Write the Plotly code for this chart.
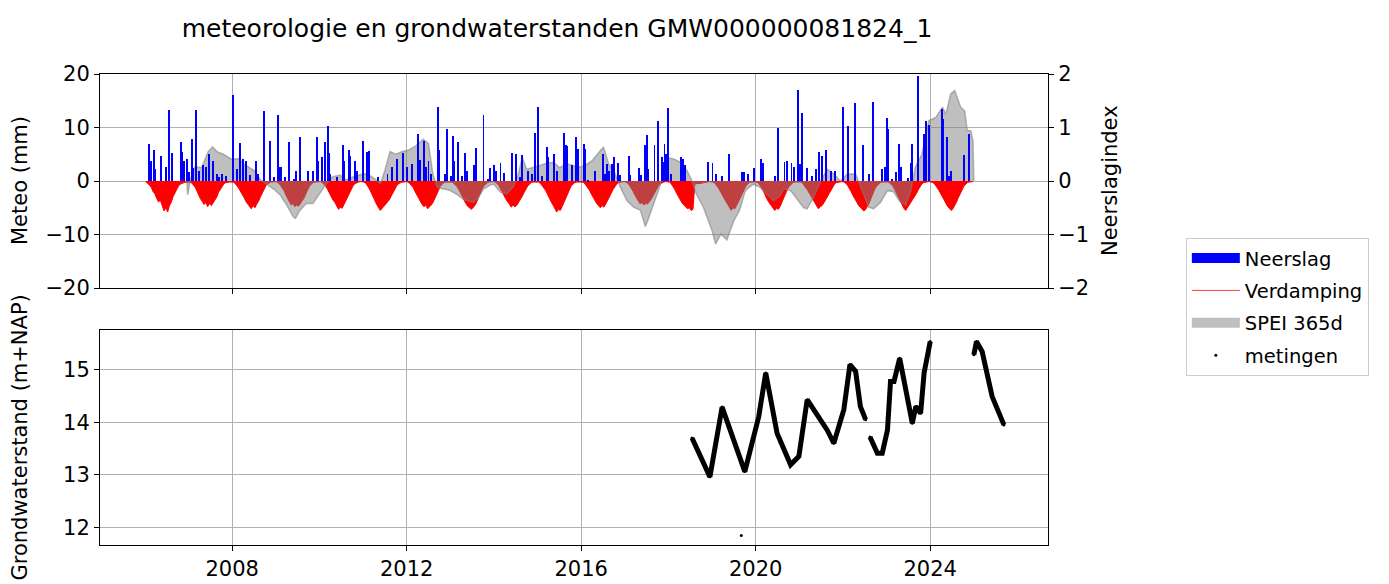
import plotly.graph_objects as go

# ---------------- data ----------------
# Neerslag (mm/d): notable daily values, time in decimal years
neerslag_jaar = [2006.10, 2006.13, 2006.20, 2006.22, 2006.37, 2006.48, 2006.56, 2006.62, 2006.83, 2006.86,
                 2006.90, 2006.97, 2007.00, 2007.08, 2007.11, 2007.16, 2007.24, 2007.33, 2007.40, 2007.47,
                 2007.57, 2007.65, 2007.70, 2007.77, 2007.85, 2008.02, 2008.10, 2008.17, 2008.24, 2008.31,
                 2008.40, 2008.54, 2008.60, 2008.72, 2008.86, 2008.95, 2009.04, 2009.07, 2009.12, 2009.22,
                 2009.31, 2009.41, 2009.47, 2009.56, 2009.74, 2009.86, 2009.94, 2009.97, 2010.06, 2010.12,
                 2010.19, 2010.22, 2010.25, 2010.40, 2010.54, 2010.57, 2010.68, 2010.71, 2010.82, 2010.86,
                 2010.99, 2011.09, 2011.14, 2011.34, 2011.56, 2011.66, 2011.78, 2011.91, 2012.01, 2012.12,
                 2012.26, 2012.30, 2012.39, 2012.44, 2012.50, 2012.56, 2012.71, 2012.74, 2012.88, 2012.92,
                 2013.01, 2013.06, 2013.09, 2013.17, 2013.27, 2013.34, 2013.38, 2013.54, 2013.59, 2013.76,
                 2013.87, 2013.92, 2014.00, 2014.04, 2014.15, 2014.22, 2014.41, 2014.50, 2014.60, 2014.64,
                 2014.77, 2014.87, 2014.95, 2015.01, 2015.10, 2015.22, 2015.25, 2015.37, 2015.45, 2015.61,
                 2015.65, 2015.68, 2015.78, 2015.89, 2015.93, 2016.06, 2016.09, 2016.16, 2016.32, 2016.49,
                 2016.54, 2016.59, 2016.64, 2016.71, 2016.76, 2016.84, 2016.88, 2017.10, 2017.13, 2017.33,
                 2017.38, 2017.47, 2017.50, 2017.54, 2017.68, 2017.75, 2017.85, 2017.87, 2017.91, 2017.94,
                 2018.00, 2018.06, 2018.28, 2018.33, 2018.37, 2018.91, 2019.01, 2019.10, 2019.22, 2019.39,
                 2019.68, 2019.74, 2019.83, 2019.96, 2020.13, 2020.17, 2020.45, 2020.51, 2020.66, 2020.72,
                 2020.82, 2020.87, 2020.97, 2021.01, 2021.07, 2021.18, 2021.28, 2021.39, 2021.46, 2021.52,
                 2021.61, 2021.72, 2021.82, 2022.01, 2022.12, 2022.27, 2022.47, 2022.59, 2022.69, 2022.89,
                 2022.96, 2023.00, 2023.03, 2023.13, 2023.22, 2023.28, 2023.32, 2023.50, 2023.57, 2023.59,
                 2023.71, 2023.86, 2023.91, 2023.97, 2024.26, 2024.29, 2024.39, 2024.43, 2024.48, 2024.78,
                 2024.90]
neerslag_mm = [6.9, 3.8, 5.8, 2.2, 4.7, 2.7, 13.3, 5.2, 7.2, 5.5,
               3.8, 4.1, 1.6, 7.9, 2.4, 13.3, 1.9, 2.9, 2.6, 5.0,
               3.8, 1.3, 0.7, 1.3, 1.0, 16.1, 2.2, 7.1, 4.1, 3.8,
               1.2, 3.7, 1.4, 13.0, 7.5, 0.7, 12.4, 2.6, 2.7, 0.7,
               7.2, 0.4, 1.9, 8.2, 1.8, 1.8, 8.2, 3.8, 4.4, 7.2,
               10.3, 5.2, 1.3, 0.7, 6.8, 3.8, 5.8, 4.7, 3.8, 1.9,
               7.5, 5.4, 5.7, 0.8, 1.3, 2.6, 4.1, 5.2, 2.7, 3.1,
               8.7, 3.9, 7.5, 2.7, 3.8, 1.3, 13.8, 5.8, 1.3, 9.8,
               1.0, 8.4, 3.8, 7.2, 1.0, 5.2, 1.9, 3.0, 6.2, 12.3,
               0.4, 2.4, 3.0, 1.9, 3.3, 1.5, 5.2, 5.0, 0.7, 4.9,
               1.9, 1.3, 8.9, 13.8, 1.0, 6.4, 4.4, 5.0, 1.9, 8.9,
               6.8, 6.6, 2.9, 8.2, 6.0, 6.9, 6.0, 0.2, 1.8, 5.0,
               1.3, 3.1, 1.9, 3.2, 4.5, 3.3, 1.2, 4.7, 1.2, 2.4,
               1.1, 6.7, 8.6, 2.2, 6.7, 11.3, 4.4, 3.6, 6.9, 5.0,
               13.6, 1.3, 4.5, 4.1, 2.9, 3.5, 3.3, 1.3, 1.0, 5.0,
               1.7, 1.6, 1.4, 2.4, 4.1, 3.3, 1.0, 9.9, 3.5, 3.8,
               3.3, 2.6, 17.0, 3.1, 12.8, 2.4, 1.0, 2.2, 5.5, 4.6,
               5.8, 1.9, 1.8, 13.8, 10.3, 14.6, 6.7, 1.4, 14.7, 2.2,
               2.7, 11.8, 9.7, 0.4, 1.6, 6.9, 2.7, 0.6, 3.3, 6.9,
               19.7, 8.8, 11.2, 10.5, 13.5, 11.6, 8.2, 1.0, 1.9, 4.9,
               8.8]

# Verdamping (mm/d, negative): lower envelope per half month, one row per year
verdamping_jaren = list(range(2006, 2025))
verdamping_halfmaand = [
    [-0.2, -0.4, -0.8, -1.2, -2.0, -2.4, -3.3, -3.9, -3.6, -4.5, -5.6, -5.0, -5.8, -4.6, -4.0, -2.9, -2.2, -1.5, -0.9, -0.6, -0.4, -0.3, -0.2, -0.2],
    [-0.2, -0.3, -0.7, -1.1, -1.8, -2.6, -3.3, -3.8, -4.4, -4.0, -4.8, -4.2, -4.6, -4.1, -3.5, -3.0, -2.1, -1.5, -0.9, -0.5, -0.3, -0.2, -0.2, -0.2],
    [-0.2, -0.4, -0.8, -1.3, -1.9, -2.4, -3.1, -3.8, -4.3, -4.8, -5.2, -4.6, -5.0, -4.3, -3.8, -3.0, -2.3, -1.5, -0.9, -0.5, -0.3, -0.2, -0.2, -0.1],
    [-0.2, -0.4, -0.8, -1.2, -1.8, -2.6, -3.4, -3.9, -4.5, -4.2, -4.8, -4.5, -4.7, -4.2, -3.7, -3.2, -2.4, -1.6, -1.0, -0.6, -0.3, -0.2, -0.2, -0.1],
    [-0.1, -0.3, -0.6, -1.0, -1.6, -2.3, -3.0, -3.6, -4.0, -4.6, -5.3, -4.9, -5.1, -4.4, -3.7, -2.9, -2.1, -1.4, -0.9, -0.5, -0.3, -0.2, -0.1, -0.1],
    [-0.2, -0.4, -0.9, -1.5, -2.2, -3.0, -3.8, -4.4, -5.0, -5.5, -5.1, -4.7, -4.4, -4.0, -3.5, -2.8, -2.1, -1.5, -0.9, -0.5, -0.3, -0.2, -0.2, -0.1],
    [-0.2, -0.4, -0.8, -1.2, -1.9, -2.6, -3.2, -3.8, -4.4, -4.8, -4.5, -5.2, -4.9, -4.5, -4.0, -3.2, -2.4, -1.6, -1.0, -0.6, -0.3, -0.2, -0.2, -0.1],
    [-0.2, -0.3, -0.6, -1.0, -1.5, -2.2, -3.0, -3.6, -4.2, -4.7, -5.0, -5.3, -5.0, -4.6, -3.9, -3.0, -2.2, -1.5, -0.9, -0.5, -0.3, -0.2, -0.1, -0.1],
    [-0.2, -0.4, -0.8, -1.3, -2.0, -2.7, -3.4, -3.9, -4.3, -4.9, -4.5, -4.8, -4.6, -4.1, -3.6, -2.9, -2.2, -1.5, -1.0, -0.6, -0.3, -0.2, -0.2, -0.1],
    [-0.2, -0.4, -0.8, -1.2, -1.8, -2.5, -3.3, -3.9, -4.5, -5.1, -5.8, -5.3, -5.5, -4.8, -4.0, -3.1, -2.2, -1.5, -0.9, -0.6, -0.3, -0.2, -0.2, -0.1],
    [-0.2, -0.3, -0.7, -1.1, -1.7, -2.4, -3.1, -3.7, -4.2, -4.6, -5.0, -4.6, -4.9, -4.3, -3.7, -3.0, -2.3, -1.6, -1.0, -0.6, -0.3, -0.2, -0.2, -0.1],
    [-0.2, -0.4, -0.8, -1.3, -1.9, -2.6, -3.3, -3.8, -4.3, -4.0, -4.5, -4.2, -4.3, -3.9, -3.4, -2.8, -2.1, -1.4, -0.9, -0.5, -0.3, -0.2, -0.1, -0.1],
    [-0.2, -0.5, -1.0, -1.6, -2.3, -3.0, -3.6, -4.1, -4.5, -4.9, -5.2, -5.0, -5.5, -5.3, -0.6, -0.5, -0.5, -0.4, -0.4, -0.3, -0.3, -0.2, -0.1, -0.1],
    [-0.2, -0.4, -0.8, -1.3, -1.9, -2.6, -3.3, -3.8, -4.3, -4.8, -5.5, -5.0, -5.2, -4.6, -3.9, -3.1, -2.3, -1.6, -1.0, -0.6, -0.3, -0.2, -0.2, -0.1],
    [-0.2, -0.4, -0.8, -1.4, -2.1, -2.9, -3.6, -4.1, -4.6, -5.0, -5.5, -5.1, -5.3, -4.7, -3.9, -3.0, -2.2, -1.5, -1.0, -0.6, -0.3, -0.2, -0.2, -0.1],
    [-0.2, -0.3, -0.7, -1.1, -1.7, -2.3, -2.9, -3.5, -4.1, -4.7, -5.2, -4.8, -4.6, -4.1, -3.5, -2.8, -2.1, -1.5, -0.9, -0.5, -0.3, -0.2, -0.2, -0.1],
    [-0.2, -0.4, -0.8, -1.3, -2.0, -2.7, -3.4, -3.9, -4.5, -4.9, -5.2, -5.6, -5.3, -4.8, -4.1, -3.2, -2.3, -1.5, -1.0, -0.6, -0.3, -0.2, -0.2, -0.1],
    [-0.2, -0.3, -0.6, -1.0, -1.6, -2.3, -3.1, -3.8, -4.5, -5.1, -5.5, -5.0, -4.5, -4.0, -3.5, -3.0, -2.3, -1.6, -0.9, -0.5, -0.3, -0.2, -0.2, -0.1],
    [-0.2, -0.3, -0.6, -1.0, -1.6, -2.2, -2.9, -3.5, -4.1, -4.7, -5.1, -5.5, -5.2, -4.6, -3.9, -3.1, -2.3, -1.6, -1.0, -0.6, -0.3, -0.2, -0.2, -0.1],
]

# SPEI 365d (Neerslagindex)
spei_jaar = [2006.96, 2006.98, 2007.05, 2007.15, 2007.30, 2007.45, 2007.55, 2007.65, 2007.80, 2007.90,
             2008.00, 2008.15, 2008.25, 2008.40, 2008.50, 2008.65, 2008.80, 2008.95, 2009.10, 2009.25,
             2009.40, 2009.45, 2009.55, 2009.70, 2009.85, 2010.00, 2010.17, 2010.30, 2010.48, 2010.60,
             2010.78, 2010.95, 2011.09, 2011.25, 2011.40, 2011.50, 2011.62, 2011.75, 2011.90, 2012.05,
             2012.20, 2012.38, 2012.50, 2012.60, 2012.70, 2012.85, 2013.00, 2013.15, 2013.30, 2013.53,
             2013.65, 2013.76, 2013.90, 2014.00, 2014.15, 2014.30, 2014.45, 2014.55, 2014.65, 2014.75,
             2014.90, 2015.06, 2015.20, 2015.37, 2015.50, 2015.68, 2015.85, 2015.98, 2016.10, 2016.25,
             2016.44, 2016.51, 2016.63, 2016.75, 2016.90, 2017.05, 2017.20, 2017.36, 2017.47, 2017.52,
             2017.66, 2017.82, 2017.97, 2018.12, 2018.28, 2018.43, 2018.54, 2018.62, 2018.80, 2018.92,
             2019.00, 2019.08, 2019.20, 2019.34, 2019.50, 2019.63, 2019.75, 2019.80, 2019.95, 2020.10,
             2020.25, 2020.41, 2020.55, 2020.64, 2020.80, 2020.98, 2021.10, 2021.18, 2021.33, 2021.49,
             2021.64, 2021.79, 2021.94, 2022.10, 2022.29, 2022.44, 2022.59, 2022.70, 2022.86, 2023.02,
             2023.16, 2023.30, 2023.44, 2023.55, 2023.66, 2023.81, 2023.90, 2023.97, 2024.13, 2024.28,
             2024.36, 2024.47, 2024.56, 2024.64, 2024.70, 2024.79, 2024.85, 2024.93, 2024.98, 2025.00]
spei_waarde = [0.0, -0.26, 0.05, 0.27, 0.25, 0.55, 0.64, 0.55, 0.50, 0.45,
               0.40, 0.42, 0.33, 0.25, 0.20, 0.02, -0.07, -0.15, -0.26, -0.45,
               -0.67, -0.70, -0.55, -0.42, -0.42, -0.25, -0.04, 0.08, 0.11, 0.02,
               0.08, 0.12, 0.14, 0.05, -0.05, 0.20, 0.55, 0.50, 0.55, 0.58,
               0.65, 0.78, 0.70, 0.13, -0.12, -0.15, -0.18, -0.25, -0.34, -0.40,
               -0.30, -0.15, -0.08, -0.06, -0.21, -0.24, -0.10, 0.10, 0.44, 0.22,
               0.25, 0.29, 0.33, 0.35, 0.25, 0.32, 0.28, 0.26, 0.30, 0.38,
               0.57, 0.63, 0.32, 0.19, -0.12, -0.37, -0.49, -0.55, -0.85, -0.75,
               -0.43, -0.06, 0.44, 0.41, 0.35, 0.19, 0.00, -0.21, -0.49, -0.75,
               -0.93, -1.18, -0.99, -1.10, -0.74, -0.55, -0.21, -0.15, -0.06, -0.12,
               -0.25, -0.37, -0.28, -0.15, -0.18, -0.37, -0.50, -0.52, -0.30, 0.00,
               0.22, 0.13, 0.00, 0.13, 0.13, -0.18, -0.49, -0.52, -0.40, -0.18,
               -0.20, -0.38, -0.45, -0.20, 0.26, 0.50, 0.85, 1.13, 1.19, 1.38,
               1.25, 1.63, 1.69, 1.50, 1.38, 1.31, 0.94, 0.94, 0.75, 0.0]

# Grondwaterstand (m+NAP) metingen; None = gap in the series
gw_jaar = [2018.54, 2018.95, 2019.23, 2019.75, 2020.07, 2020.23, 2020.49, 2020.80, 2020.99, 2021.18,
           2021.33, 2021.64, 2021.79, 2022.02, 2022.16, 2022.29, 2022.40, 2022.52, None,
           2019.67, None,
           2022.62, 2022.79, 2022.90, 2023.02, 2023.09, 2023.17, 2023.30, 2023.40, 2023.59, 2023.67,
           2023.78, 2023.86, 2024.00, None,
           2025.00, 2025.06, 2025.19, 2025.42, 2025.69]
gw_stand = [13.70, 12.96, 14.29, 13.06, 14.11, 14.94, 13.79, 13.19, 13.35, 14.43,
            14.24, 13.85, 13.60, 14.24, 15.10, 14.97, 14.30, 14.05, None,
            11.84, None,
            13.72, 13.41, 13.41, 13.85, 14.78, 14.78, 15.22, 14.81, 13.98, 14.30,
            14.17, 14.94, 15.54, None,
            15.29, 15.54, 15.35, 14.49, 13.95]

x_ticks = [2008, 2012, 2016, 2020, 2024]
x_labels = ["2008", "2012", "2016", "2020", "2024"]

# ---------------- figure ----------------
verd_x, verd_y = [], []
for jaar, rij in zip(verdamping_jaren, verdamping_halfmaand):
    for i, v in enumerate(rij):
        verd_x.append(jaar + (i + 0.5) / 24)
        verd_y.append(v)

FONT = "DejaVu Sans"
fs_tick = 21
fs_lab = 21
fs_leg = 19.5
grid = "#b0b0b0"
SPEI_FILL = "rgba(128,128,128,0.5)"

fig = go.Figure()

# plotted marks (legend handled by legend-only traces below)
fig.add_trace(go.Scatter(x=verd_x, y=verd_y, mode="lines", fill="tozeroy",
                         line=dict(color="red", width=1), fillcolor="red",
                         showlegend=False, xaxis="x", yaxis="y", hoverinfo="skip"))
fig.add_trace(go.Scatter(x=spei_jaar, y=spei_waarde, mode="lines", fill="tozeroy",
                         line=dict(color="rgba(128,128,128,0.55)", width=1.5),
                         fillcolor=SPEI_FILL, showlegend=False, xaxis="x", yaxis="y2"))
fig.add_trace(go.Bar(x=neerslag_jaar, y=neerslag_mm, width=0.022,
                     marker=dict(color="blue", line=dict(width=0)),
                     showlegend=False, xaxis="x", yaxis="y3"))
fig.add_trace(go.Scatter(x=gw_jaar, y=gw_stand, mode="lines", line=dict(color="black", width=5),
                         connectgaps=False, showlegend=False, xaxis="x2", yaxis="y4"))
fig.add_trace(go.Scatter(x=gw_jaar, y=gw_stand, mode="markers", marker=dict(color="black", size=3),
                         showlegend=False, xaxis="x2", yaxis="y4"))

# legend entries
leg = [("Neerslag", dict(color="blue", width=14), "lines", None),
       ("Verdamping", dict(color="#ff4040", width=1), "lines", None),
       ("SPEI 365d", dict(color=SPEI_FILL, width=14), "lines", None),
       ("metingen", None, "markers", dict(color="black", size=3))]
for k, (nm, ln, md, mk) in enumerate(leg):
    kw = dict(x=[None], y=[None], mode=md, name=nm, legendgroup=nm, legendrank=k + 1,
              xaxis="x", yaxis="y")
    if ln:
        kw["line"] = ln
    if mk:
        kw["marker"] = mk
    fig.add_trace(go.Scatter(**kw))

xr = [2004.97, 2026.70]
axis_common = dict(showline=True, linecolor="black", linewidth=1, mirror=True,
                   ticks="outside", ticklen=5, tickcolor="black",
                   tickfont=dict(family=FONT, size=fs_tick, color="black"),
                   showgrid=True, gridcolor=grid, gridwidth=1, zeroline=False,
                   automargin=False)

top_dom = [0.5456, 1.0]
bot_dom = [0.0, 0.4565]
SH = 8  # page offset of the figure inside the browser body

fig.update_layout(
    width=1389, height=584,
    margin=dict(l=100 - SH, r=341 + SH, t=74 - SH, b=39 + SH),
    paper_bgcolor="white", plot_bgcolor="white",
    bargap=0,
    font=dict(family=FONT, size=fs_lab, color="black"),
    title=dict(text="meteorologie en grondwaterstanden GMW000000081824_1",
               font=dict(family=FONT, size=25, color="black"),
               x=(557 - SH) / 1389, xanchor="center", y=1 - (28 - SH) / 584, yanchor="middle"),
    xaxis=dict(axis_common, domain=[0, 1], range=xr, anchor="y",
               tickvals=x_ticks, ticktext=x_labels, showticklabels=False),
    yaxis=dict(axis_common, domain=top_dom, range=[-20, 20], anchor="x",
               tickvals=[-20, -10, 0, 10, 20]),
    yaxis2=dict(axis_common, overlaying="y", side="right", range=[-2, 2], anchor="x",
                tickvals=[-2, -1, 0, 1, 2], showgrid=False),
    yaxis3=dict(overlaying="y", range=[-20, 20], visible=False, anchor="x"),
    xaxis2=dict(axis_common, domain=[0, 1], range=xr, anchor="y4",
                tickvals=x_ticks, ticktext=x_labels),
    yaxis4=dict(axis_common, domain=bot_dom, range=[11.66, 15.76], anchor="x2",
                tickvals=[12, 13, 14, 15]),
    legend=dict(x=1.1454, y=0.652, xanchor="left", yanchor="top",
                bordercolor="#cccccc", borderwidth=1, bgcolor="white",
                font=dict(family=FONT, size=fs_leg, color="black"),
                traceorder="grouped", itemwidth=48, tracegroupgap=4),
    annotations=[
        dict(text="Meteo (mm)", textangle=-90, xref="paper", yref="paper",
             x=(20 - 100) / 948, y=(top_dom[0] + top_dom[1]) / 2, showarrow=False,
             xanchor="center", yanchor="middle", font=dict(family=FONT, size=fs_lab)),
        dict(text="Neerslagindex", textangle=-90, xref="paper", yref="paper",
             x=(1110 - 100) / 948, y=(top_dom[0] + top_dom[1]) / 2, showarrow=False,
             xanchor="center", yanchor="middle", font=dict(family=FONT, size=fs_lab)),
        dict(text="Grondwaterstand (m+NAP)", textangle=-90, xref="paper", yref="paper",
             x=(20 - 100) / 948, y=(bot_dom[0] + bot_dom[1]) / 2, showarrow=False,
             xanchor="center", yanchor="middle", font=dict(family=FONT, size=fs_lab)),
    ],
)

fig.write_html("out.html")
